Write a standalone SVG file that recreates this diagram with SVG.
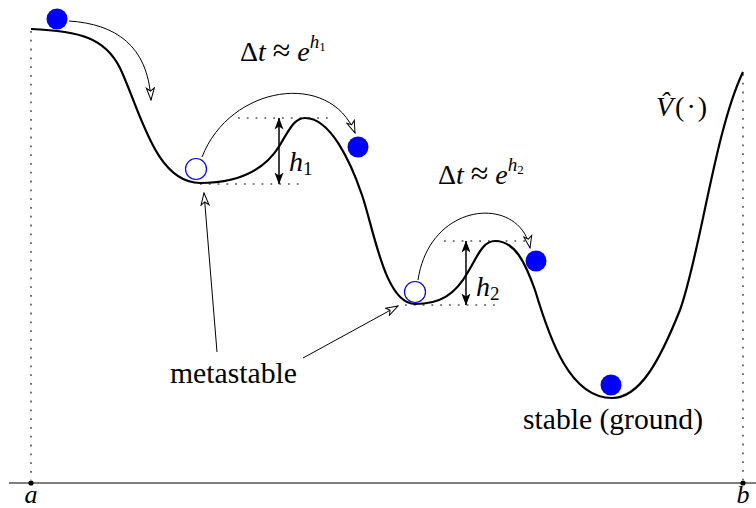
<svg xmlns="http://www.w3.org/2000/svg" width="756" height="508" viewBox="0 0 756 508">
<style>
.t{font-family:"Liberation Serif","DejaVu Serif",serif;fill:#000}
.i{font-style:italic}
.dot{stroke:#000;stroke-width:1.1;stroke-dasharray:1.8 7;fill:none}
.arr{stroke:#000;stroke-width:1;fill:none;marker-end:url(#open)}
.dbl{stroke:#000;stroke-width:1.5;fill:none;marker-start:url(#stealthS);marker-end:url(#stealth)}
.ball{fill:#0000ff}
.ring{fill:#fff;stroke:#0000ff;stroke-width:1.2}
</style>
<defs>
<marker id="open" viewBox="0 0 14 10" refX="13" refY="5" markerWidth="14" markerHeight="10" markerUnits="userSpaceOnUse" orient="auto">
<path d="M1,1 L13,5 L1,9 L4,5 Z" fill="#fff" stroke="#000" stroke-width="1"/>
</marker>
<marker id="stealth" viewBox="0 0 12 10" refX="11.5" refY="5" markerWidth="12" markerHeight="10" markerUnits="userSpaceOnUse" orient="auto">
<path d="M0,0.5 L12,5 L0,9.5 L3,5 Z" fill="#000"/>
</marker>
<marker id="stealthS" viewBox="0 0 12 10" refX="11.5" refY="5" markerWidth="12" markerHeight="10" markerUnits="userSpaceOnUse" orient="auto-start-reverse">
<path d="M0,0.5 L12,5 L0,9.5 L3,5 Z" fill="#000"/>
</marker>
</defs>

<g id="axis">
<line x1="9" y1="483" x2="756" y2="483" stroke="#000" stroke-width="1.2"/>
<line class="dot" x1="31" y1="31" x2="31" y2="480"/>
<line class="dot" x1="743" y1="74" x2="743" y2="480"/>
<circle cx="31" cy="483" r="2.6" fill="#000"/>
<circle cx="743" cy="483" r="2.6" fill="#000"/>
<text class="t i" x="31" y="503" font-size="26" text-anchor="middle">a</text>
<text class="t i" x="743" y="503" font-size="26" text-anchor="middle">b</text>
</g>

<g id="potential">
<path d="M31,29 C80,31 105,38 120,68 C140,110 155,183 200,183 C240,183 265,170 280,145 C290,128 295,118 305,118 C330,118 350,160 362,195 C374,230 385,304 415,304 C440,304 455,295 468,272 C478,255 483,241 495,241 C515,241 525,262 535,290 C550,340 570,398 612,398 C640,398 660,360 680,310 C700,255 715,130 743,72" fill="none" stroke="#000" stroke-width="2.2"/>
</g>

<g id="levels">
<line class="dot" x1="238" y1="118" x2="330" y2="118"/>
<line class="dot" x1="200" y1="184" x2="300" y2="184"/>
<line class="dot" x1="444" y1="241" x2="530" y2="241"/>
<line class="dot" x1="405" y1="305" x2="498" y2="305"/>
</g>

<g id="connectors">
<line class="dbl" x1="279" y1="118" x2="279" y2="184"/>
<line class="dbl" x1="466" y1="241" x2="466" y2="305"/>
<path class="arr" d="M69,21 C115,24 148,45 151,100"/>
<path class="arr" d="M202,157 C230,85 330,70 355,133"/>
<path class="arr" d="M418,280 C430,200 520,195 530,248"/>
<path class="arr" d="M217,352 L204,193"/>
<path class="arr" d="M303,358 L398,306"/>
</g>

<g id="balls">
<circle class="ball" cx="57" cy="19" r="10.5"/>
<circle class="ball" cx="358" cy="147" r="10.5"/>
<circle class="ball" cx="536" cy="261" r="10.5"/>
<circle class="ball" cx="611" cy="385" r="10.5"/>
<circle class="ring" cx="196" cy="169" r="10.5"/>
<circle class="ring" cx="415" cy="292" r="10.5"/>
</g>

<g id="labels">
<text class="t" x="240" y="61" font-size="28">Δ<tspan class="i">t</tspan><tspan dx="7" font-size="32">≈</tspan><tspan class="i" dx="7">e</tspan><tspan class="i" font-size="19" dy="-13">h</tspan><tspan font-size="13" dy="3">1</tspan></text>
<text class="t" x="438" y="184" font-size="28">Δ<tspan class="i">t</tspan><tspan dx="7" font-size="32">≈</tspan><tspan class="i" dx="7">e</tspan><tspan class="i" font-size="19" dy="-13">h</tspan><tspan font-size="13" dy="3">2</tspan></text>
<text class="t" x="289" y="171" font-size="28"><tspan class="i">h</tspan><tspan font-size="19" dy="4">1</tspan></text>
<text class="t" x="476" y="296" font-size="28"><tspan class="i">h</tspan><tspan font-size="19" dy="4">2</tspan></text>
<text class="t" x="656" y="116" font-size="28"><tspan class="i">V̂</tspan><tspan dx="2">(</tspan><tspan dx="2">·</tspan><tspan dx="2">)</tspan></text>
<text class="t" x="170" y="383" font-size="29" textLength="127" lengthAdjust="spacingAndGlyphs">metastable</text>
<text class="t" x="523" y="429" font-size="29" textLength="180" lengthAdjust="spacingAndGlyphs">stable (ground)</text>
</g>
</svg>
